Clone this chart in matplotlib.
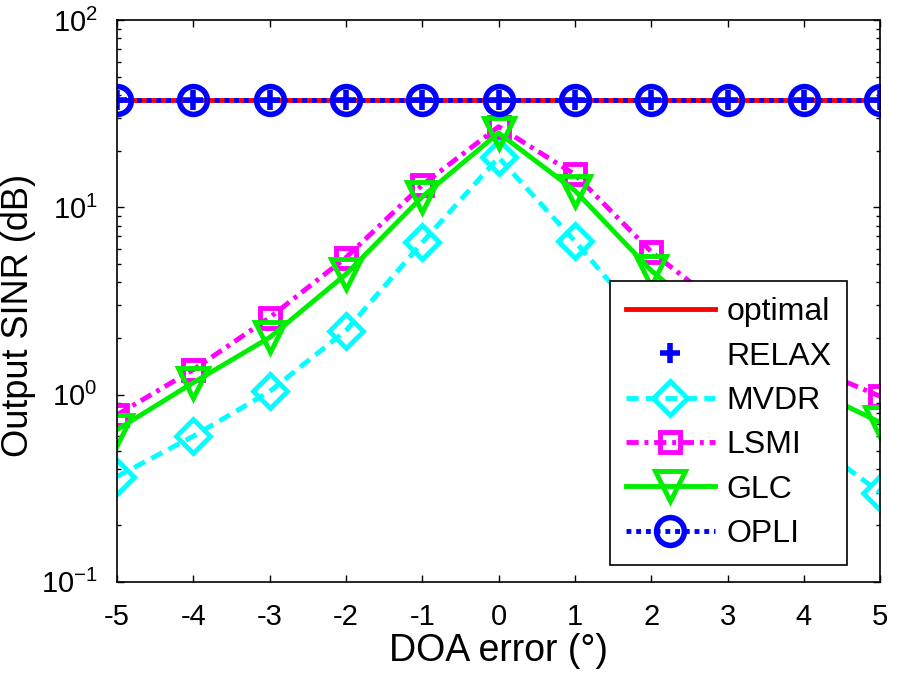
import matplotlib
matplotlib.use('Agg')
import matplotlib.pyplot as plt
from matplotlib.ticker import LogLocator, NullFormatter, FixedLocator

plt.rcParams['font.family'] = ['Liberation Sans', 'DejaVu Sans']
plt.rcParams['mathtext.fontset'] = 'custom'
plt.rcParams['mathtext.rm'] = 'Liberation Sans'
plt.rcParams['mathtext.it'] = 'Liberation Sans'

# DOA error (deg) and output SINR values
doa = [-5, -4, -3, -2, -1, 0, 1, 2, 3, 4, 5]
optimal = [37.6] * 11
relax = [37.6] * 11
mvdr = [0.365, 0.6, 1.04, 2.2, 6.5, 18.5, 6.6, 2.2, 1.04, 0.6, 0.30]
lsmi = [0.78, 1.36, 2.58, 5.4, 13.2, 27, 15, 5.8, 2.8, 1.45, 0.98]
glc = [0.65, 1.16, 2.02, 4.4, 11.4, 25, 12.3, 4.6, 2.1, 1.12, 0.71]
opli = [37.6] * 11
yticks = [0.1, 1, 10, 100]
ytick_labels = ['$10^{-1}$', '$10^{0}$', '$10^{1}$', '$10^{2}$']

fig = plt.figure(figsize=(9, 6.75), dpi=100)
ax = fig.add_axes([0.13, 0.138, 0.848, 0.832])

lw = 3.5
ax.plot(doa, optimal, color='red', lw=lw, label='optimal')
ax.plot(doa, relax, color='blue', ls='none', marker='+', ms=15, mew=4, label='RELAX')
ax.plot(doa, mvdr, color='cyan', lw=lw, ls=(0, (2.5, 1.5)), marker='D', ms=17,
        mfc='none', mew=3.5, label='MVDR')
ax.plot(doa, lsmi, color='magenta', lw=lw, ls=(0, (2.5, 1.2, 0.8, 1.2)), marker='s', ms=15,
        mfc='none', mew=3.5, label='LSMI')
ax.plot(doa, glc, color='#00ee00', lw=lw, marker='v', ms=21,
        mfc='none', mew=3.5, label='GLC')
ax.plot(doa, opli, color='blue', lw=lw, ls=(0, (1, 1)), marker='o', ms=20,
        mfc='none', mew=4, label='OPLI')

ax.set_yscale('log')
ax.set_ylim(0.1, 100)
ax.set_xlim(-5, 5)
ax.set_xticks(doa)
ax.set_xticklabels([str(d) for d in doa])
ax.yaxis.set_major_locator(FixedLocator(yticks))
ax.set_yticklabels(ytick_labels)
ax.yaxis.set_minor_locator(LogLocator(base=10, subs=range(2, 10)))
ax.yaxis.set_minor_formatter(NullFormatter())
ax.tick_params(which='both', direction='in', top=True, right=True, labelsize=21, width=1)
ax.tick_params(axis='x', pad=15)
ax.tick_params(axis='y', pad=14)
ax.tick_params(which='major', length=5)
ax.tick_params(which='minor', length=3)
for s in ax.spines.values():
    s.set_linewidth(1.2)

ax.set_xlabel('DOA error (°)', fontsize=27, labelpad=2)
ax.set_ylabel('Output SINR (dB)', fontsize=26)
ax.yaxis.set_label_coords(-0.106, 0.475)

leg = ax.legend(loc='lower right', bbox_to_anchor=(0.957, 0.03), fontsize=23,
                frameon=True, fancybox=False, edgecolor='black', framealpha=1,
                handlelength=2.8, handletextpad=0.35, borderpad=0.5, labelspacing=0.45,
                borderaxespad=0)
leg.get_frame().set_linewidth(1.2)

fig.savefig('out.png', dpi=100)
